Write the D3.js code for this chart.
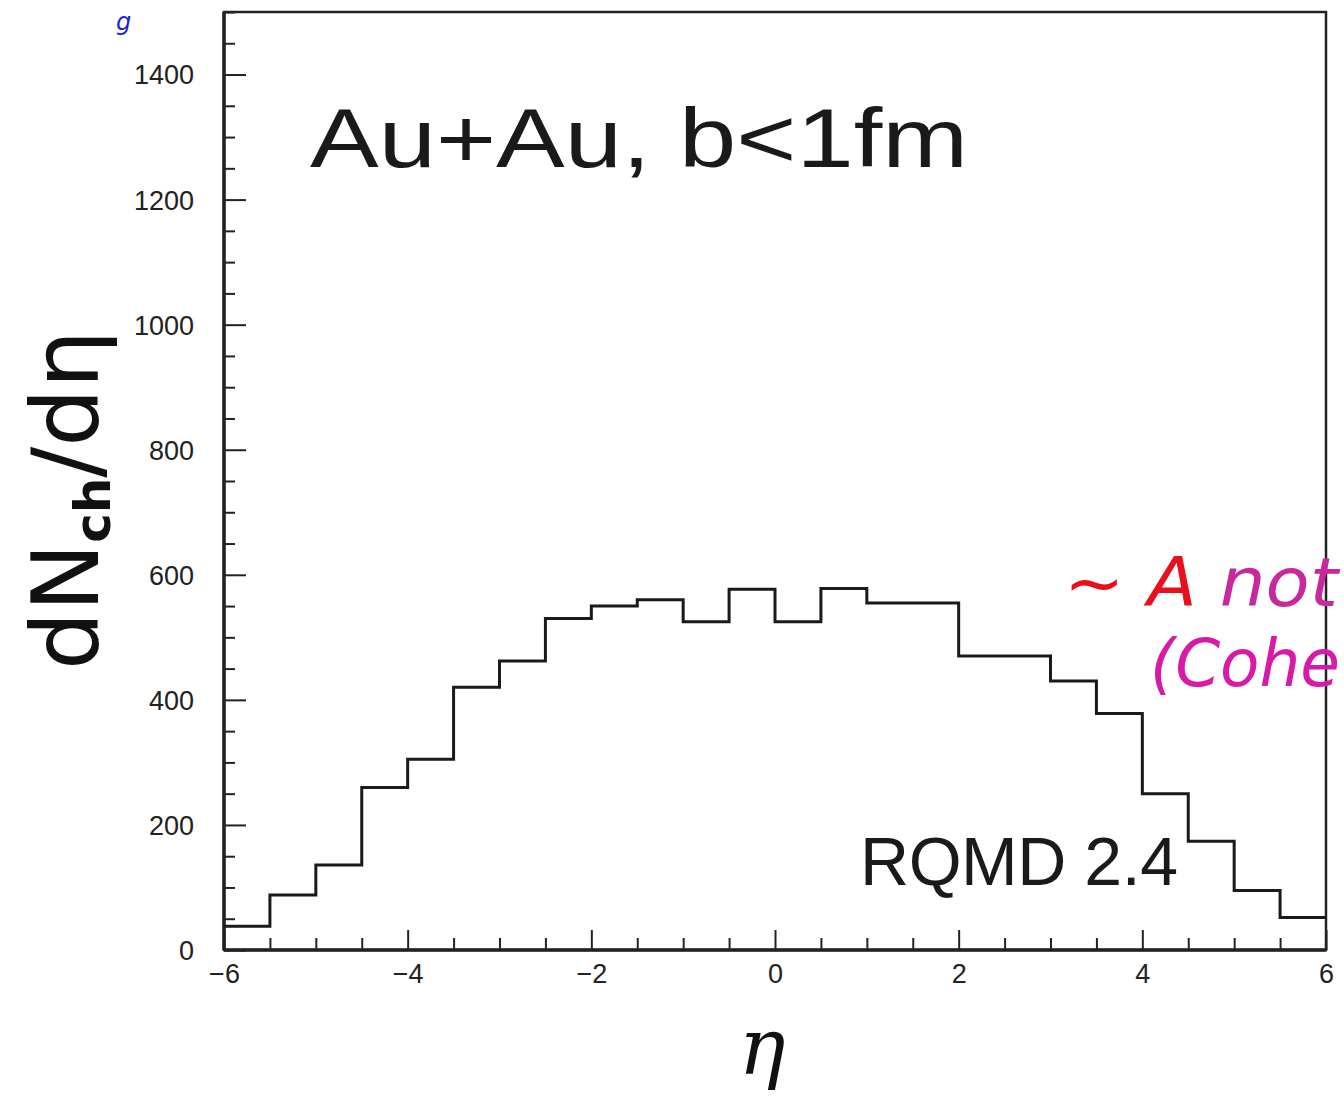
<!DOCTYPE html>
<html>
<head>
<meta charset="utf-8">
<script src="https://cdn.jsdelivr.net/npm/d3@7"></script>
<style>
  html, body { margin: 0; padding: 0; background: #fff; }
  svg { display: block; }
</style>
</head>
<body>
<div id="chart"></div>
<script>
// bin edges (eta) and dNch/deta contents
const binEdges = [-6, -5.5, -5, -4.5, -4, -3.5, -3, -2.5, -2, -1.5, -1, -0.5,
                  0, 0.5, 1, 1.5, 2, 2.5, 3, 3.5, 4, 4.5, 5, 5.5, 6];
const binValues = [38, 88, 136, 260, 305, 420, 462, 530, 550, 560, 525, 577,
                   525, 578, 555, 555, 470, 470, 430, 378, 250, 174, 95, 52];

const xMajorTicks = [-6, -4, -2, 0, 2, 4, 6];
const yMajorTicks = [0, 200, 400, 600, 800, 1000, 1200, 1400];

const width = 1344, height = 1099;

const svg = d3.select('#chart').append('svg')
    .attr('width', width)
    .attr('height', height);

const x = d3.scaleLinear().domain([-6, 6]).range([224, 1326]);
const y = d3.scaleLinear().domain([0, 1500]).range([950, 12]);

// frame
svg.append('rect')
    .attr('x', x(-6))
    .attr('y', y(1500))
    .attr('width', x(6) - x(-6))
    .attr('height', y(0) - y(1500))
    .attr('fill', 'none')
    .attr('stroke', '#222')
    .attr('stroke-width', 2.5);

// y axis, ticks pointing inwards
const yMinor = d3.range(0, 1501, 50).filter((v) => v % 200 !== 0);

svg.append('g')
    .attr('transform', 'translate(' + x(-6) + ',0)')
    .call(d3.axisLeft(y).tickValues(yMinor).tickSize(-11).tickFormat(''))
    .call((g) => g.select('.domain').remove());

svg.append('g')
    .attr('class', 'y-axis')
    .attr('transform', 'translate(' + x(-6) + ',0)')
    .call(d3.axisLeft(y).tickValues(yMajorTicks).tickSize(-22).tickPadding(30).tickFormat(d3.format('d')))
    .call((g) => g.select('.domain').remove());

// x axis, ticks pointing up
const xMinor = d3.range(-5.5, 6, 0.5).filter((v) => v % 2 !== 0);

svg.append('g')
    .attr('transform', 'translate(0,' + y(0) + ')')
    .call(d3.axisBottom(x).tickValues(xMinor).tickSize(-12).tickFormat(''))
    .call((g) => g.select('.domain').remove());

svg.append('g')
    .attr('class', 'x-axis')
    .attr('transform', 'translate(0,' + y(0) + ')')
    .call(d3.axisBottom(x).tickValues(xMajorTicks).tickSize(-20).tickPadding(14).tickFormat((d) => d < 0 ? '\u2212' + (-d) : d))
    .call((g) => g.select('.domain').remove());

svg.selectAll('.tick line')
    .attr('stroke', '#222')
    .attr('stroke-width', 2);

svg.selectAll('.tick text')
    .attr('fill', '#222')
    .style('font-family', 'Liberation Sans, Arial, sans-serif')
    .style('font-size', '27px');

svg.selectAll('.y-axis .tick text').attr('dy', '0.35em');

// axes lines thicker on left and bottom
svg.append('line')
    .attr('x1', x(-6)).attr('x2', x(-6))
    .attr('y1', y(1500)).attr('y2', y(0))
    .attr('stroke', '#222').attr('stroke-width', 3.5);
svg.append('line')
    .attr('x1', x(-6)).attr('x2', x(6))
    .attr('y1', y(0)).attr('y2', y(0))
    .attr('stroke', '#222').attr('stroke-width', 3.5);

// histogram
const pts = binValues.map((v, i) => [binEdges[i], v]);
pts.push([binEdges[binEdges.length - 1], binValues[binValues.length - 1]]);

const step = d3.line()
    .x((d) => x(d[0]))
    .y((d) => y(d[1]))
    .curve(d3.curveStepAfter);

svg.append('path')
    .datum(pts)
    .attr('d', step)
    .attr('fill', 'none')
    .attr('stroke', '#1a1a1a')
    .attr('stroke-width', 3);

// labels
svg.append('text')
    .attr('x', 310)
    .attr('y', 167)
    .attr('textLength', 658)
    .attr('lengthAdjust', 'spacingAndGlyphs')
    .style('font-family', 'Liberation Sans, Arial, sans-serif')
    .style('font-size', '84px')
    .attr('fill', '#1a1a1a')
    .text('Au+Au, b<1fm');

svg.append('text')
    .attr('x', 860)
    .attr('y', 885)
    .attr('textLength', 318)
    .attr('lengthAdjust', 'spacing')
    .style('font-family', 'Liberation Sans, Arial, sans-serif')
    .style('font-size', '68px')
    .attr('fill', '#1a1a1a')
    .text('RQMD 2.4');

const yTitle = svg.append('text')
    .attr('transform', 'translate(98,500) rotate(-90)')
    .attr('text-anchor', 'middle')
    .style('font-family', 'DejaVu Sans, sans-serif')
    .style('font-size', '92px')
    .attr('fill', '#111');
yTitle.append('tspan').text('dN');
yTitle.append('tspan').attr('dy', 12).style('font-size', '50px').style('font-weight', 'bold').text('ch');
yTitle.append('tspan').attr('dy', -12).text('/d\u03b7');

svg.append('text')
    .attr('x', 762)
    .attr('y', 1074)
    .attr('text-anchor', 'middle')
    .style('font-family', 'DejaVu Serif, serif')
    .style('font-style', 'italic')
    .style('font-size', '78px')
    .attr('fill', '#111')
    .text('\u03b7');

// handwritten notes on the scan
const note1 = svg.append('text')
    .attr('x', 1064)
    .attr('y', 606)
    .attr('textLength', 274)
    .attr('lengthAdjust', 'spacingAndGlyphs')
    .style('font-family', 'DejaVu Sans, sans-serif')
    .style('font-style', 'italic')
    .style('font-size', '68px');
note1.append('tspan').attr('fill', '#e8101c').text('~ A ');
note1.append('tspan').attr('fill', '#c8289c').text('not');

svg.append('text')
    .attr('x', 1150)
    .attr('y', 686)
    .attr('textLength', 190)
    .attr('lengthAdjust', 'spacingAndGlyphs')
    .style('font-family', 'DejaVu Sans, sans-serif')
    .style('font-style', 'italic')
    .style('font-size', '66px')
    .attr('fill', '#d81aa8')
    .text('(Cohe');

svg.append('text')
    .attr('x', 116)
    .attr('y', 30)
    .style('font-family', 'DejaVu Sans, sans-serif')
    .style('font-style', 'italic')
    .style('font-size', '24px')
    .attr('fill', '#1a22d8')
    .text('g');
</script>
</body>
</html>
